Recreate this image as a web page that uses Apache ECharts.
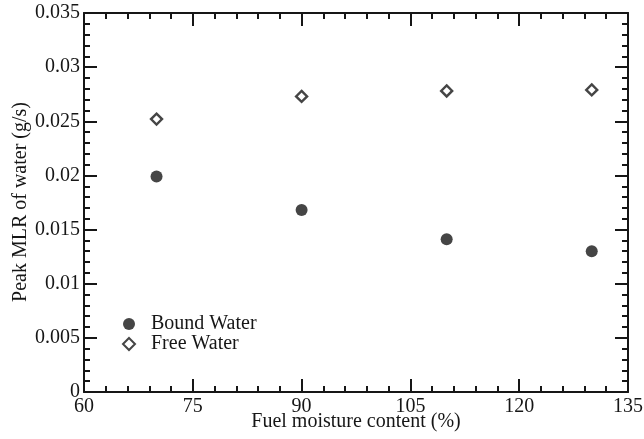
<!DOCTYPE html>
<html>
<head>
<meta charset="utf-8">
<script src="https://cdn.jsdelivr.net/npm/echarts@6/dist/echarts.min.js"></script>
<style>
  html, body { margin: 0; padding: 0; background: #fff; }
  #main { width: 644px; height: 439px; }
</style>
</head>
<body>
<div id="main"></div>
<script>
// data
var moisture = [70, 90, 110, 130];
var boundWater = [0.0199, 0.0168, 0.0141, 0.0130];
var freeWater = [0.0252, 0.0273, 0.0278, 0.0279];

var xRange = [60, 135], xMajor = 15, xMinor = 3;
var yRange = [0, 0.035], yMajor = 0.005, yMinor = 0.001;

function pairs(xs, ys) {
    var out = [];
    for (var i = 0; i < xs.length; i++) {
        out.push([xs[i], ys[i]]);
    }
    return out;
}

var font = 'Liberation Serif, Times New Roman, serif';
var ink = '#161616';

// one side of the frame; minor ticks come from a second, line-less axis on the same side
function frameAxis(pos, range, step, tickLen, showLine) {
    return {
        type: 'value',
        position: pos,
        min: range[0],
        max: range[1],
        interval: step,
        axisLine: {show: showLine, onZero: false, lineStyle: {color: ink, width: 2}},
        axisTick: {show: true, inside: true, length: tickLen, lineStyle: {color: ink, width: 2}},
        splitLine: {show: false},
        axisLabel: {show: false}
    };
}

var xMain = frameAxis('bottom', xRange, xMajor, 13, true);
xMain.axisLabel = {show: true, fontFamily: font, fontSize: 20, color: ink, margin: 5, showMinLabel: true, showMaxLabel: true};

var yMain = frameAxis('left', yRange, yMajor, 13, true);
yMain.axisLabel = {show: true, fontFamily: font, fontSize: 20, color: ink, margin: 4};

var myChart = echarts.init(document.getElementById('main'));

var option = {
    backgroundColor: '#fff',
    animation: false,
    grid: {left: 84, right: 16, top: 13, bottom: 47, containLabel: false, outerBoundsMode: 'none'},
    graphic: [
        {
            type: 'text',
            x: 356,
            y: 422,
            style: {text: 'Fuel moisture content (%)', font: '20px ' + font, fill: ink, align: 'center', verticalAlign: 'middle'}
        },
        {
            type: 'text',
            x: 21,
            y: 202,
            rotation: Math.PI / 2,
            style: {text: 'Peak MLR of water (g/s)', font: '20px ' + font, fill: ink, align: 'center', verticalAlign: 'middle'}
        }
    ],
    legend: {
        orient: 'vertical',
        left: 117,
        top: 309,
        itemWidth: 12,
        itemHeight: 12,
        itemGap: 0,
        textStyle: {fontFamily: font, fontSize: 20, color: ink, lineHeight: 19, padding: [0, 0, 0, 11]},
        data: ['Bound Water', 'Free Water']
    },
    xAxis: [
        xMain,
        frameAxis('top', xRange, xMajor, 13, true),
        frameAxis('bottom', xRange, xMinor, 6, false),
        frameAxis('top', xRange, xMinor, 6, false)
    ],
    yAxis: [
        yMain,
        frameAxis('right', yRange, yMajor, 13, true),
        frameAxis('left', yRange, yMinor, 6, false),
        frameAxis('right', yRange, yMinor, 6, false)
    ],
    series: [
        {
            name: 'Bound Water',
            type: 'scatter',
            symbol: 'circle',
            symbolSize: 12,
            itemStyle: {color: ink},
            data: pairs(moisture, boundWater)
        },
        {
            name: 'Free Water',
            type: 'scatter',
            symbol: 'diamond',
            symbolSize: 11,
            itemStyle: {color: '#fff', borderColor: ink, borderWidth: 2.4},
            data: pairs(moisture, freeWater)
        }
    ]
};

myChart.setOption(option);
</script>
</body>
</html>
